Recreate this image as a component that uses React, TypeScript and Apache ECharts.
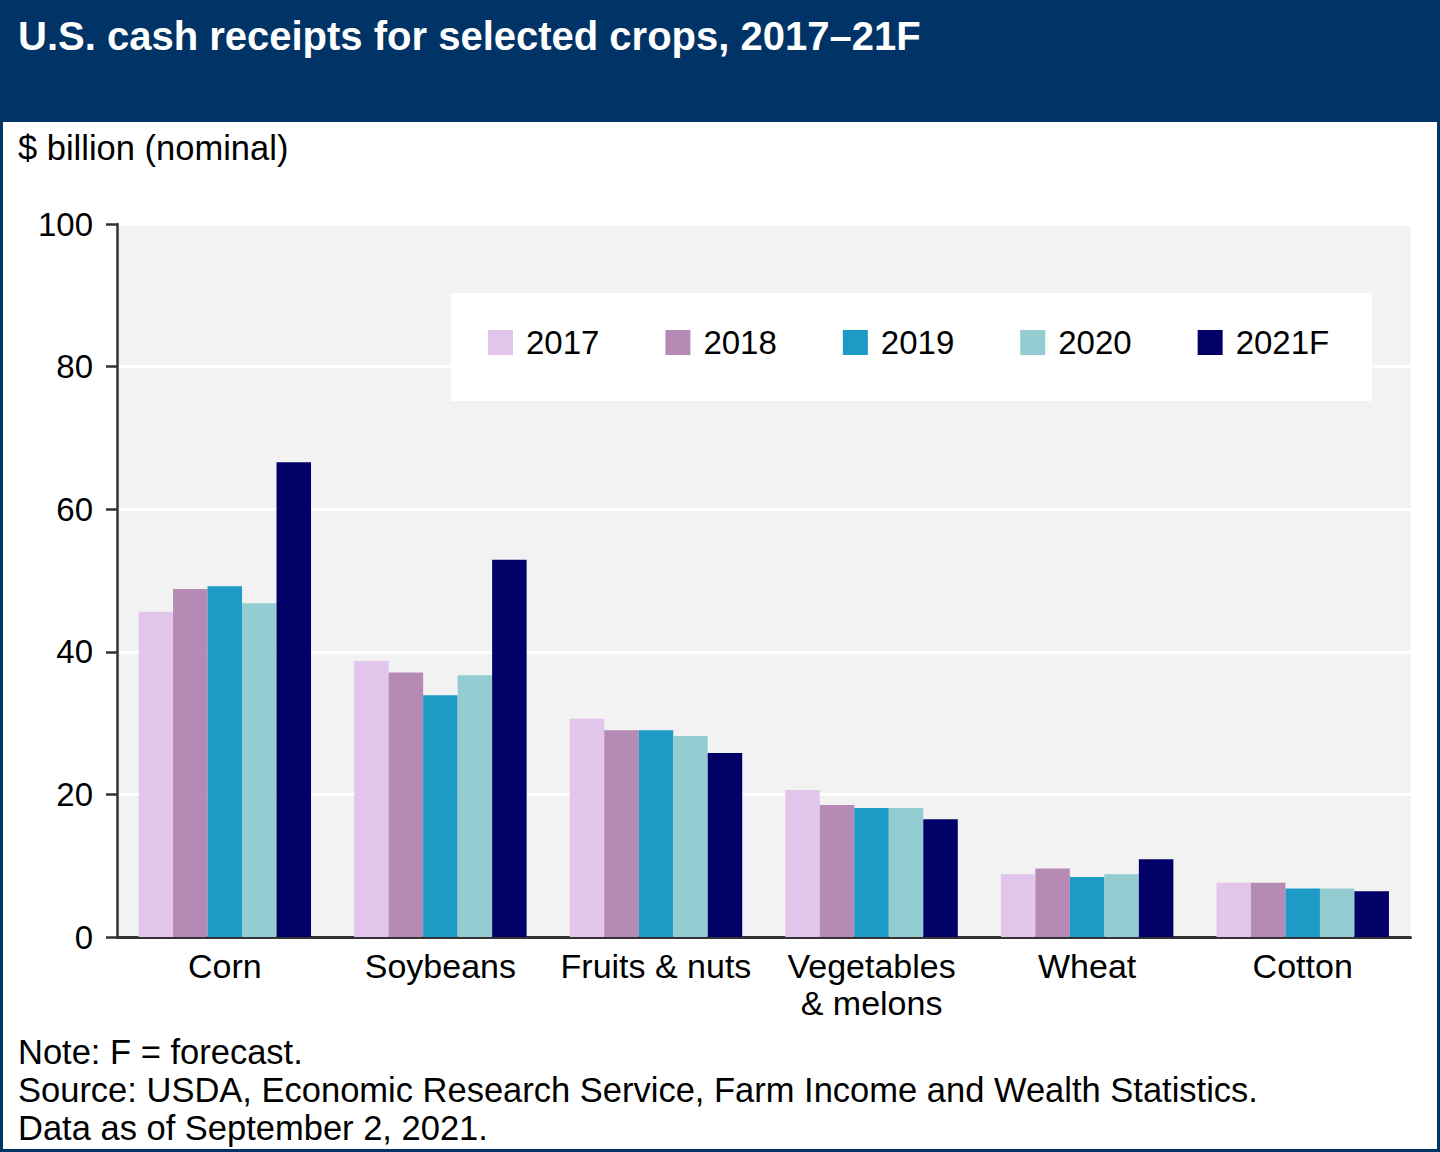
import React, { useEffect, useRef } from "react";
import * as echarts from "echarts";

const categories = ["Corn", "Soybeans", "Fruits & nuts", "Vegetables\n& melons", "Wheat", "Cotton"];
const seriesNames = ["2017", "2018", "2019", "2020", "2021F"];
const v2017 = [45.6, 38.7, 30.6, 20.6, 8.8, 7.6];
const v2018 = [48.8, 37.1, 29.0, 18.5, 9.6, 7.6];
const v2019 = [49.2, 33.9, 29.0, 18.1, 8.4, 6.8];
const v2020 = [46.8, 36.7, 28.2, 18.1, 8.8, 6.8];
const v2021 = [66.6, 52.9, 25.8, 16.5, 10.9, 6.4];
const seriesValues = [v2017, v2018, v2019, v2020, v2021];
const colors = ["#e1c5ea", "#b58ab5", "#1e9ac6", "#93cdd1", "#000066"];

const titleText = "U.S. cash receipts for selected crops, 2017\u201321F";
const unitText = "$ billion (nominal)";
const noteLines = [
  "Note: F = forecast.",
  "Source: USDA, Economic Research Service, Farm Income and Wealth Statistics.",
  "Data as of September 2, 2021.",
];

const FONT = "'Liberation Sans', Arial, Helvetica, sans-serif";
const NAVY = "#003366";

export default function App() {
  const ref = useRef<HTMLDivElement>(null);
  useEffect(() => {
    document.body.style.margin = "0";
    if (!ref.current) return;
    const chart = echarts.init(ref.current, undefined, { renderer: "svg" });
    const option: any = {
      animation: false,
      backgroundColor: "#ffffff",
      textStyle: { fontFamily: FONT },
      grid: {
        left: 117,
        right: 29.5,
        top: 224,
        bottom: 215,
        show: true,
        backgroundColor: "#f2f2f2",
        borderWidth: 0,
        containLabel: false,
      },
      legend: {
        left: 488,
        top: 326,
        z: 10,
        icon: "rect",
        itemWidth: 25,
        itemHeight: 25,
        itemGap: 66,
        padding: 0,
        data: seriesNames,
        textStyle: {
          fontFamily: FONT,
          fontSize: 33,
          color: "#000",
          padding: [0, 0, 0, 8],
        },
      },
      xAxis: {
        type: "category",
        data: categories,
        axisLine: { show: true, lineStyle: { color: "#333", width: 3 } },
        axisTick: { show: false },
        axisLabel: {
          interval: 0,
          fontFamily: FONT,
          fontSize: 34,
          color: "#000",
          margin: 10,
          lineHeight: 37,
        },
      },
      yAxis: {
        type: "value",
        min: 0,
        max: 100,
        interval: 20,
        axisLine: { show: true, lineStyle: { color: "#333", width: 2.5 } },
        axisTick: { show: true, length: 11, lineStyle: { color: "#333", width: 2.5 } },
        axisLabel: { fontFamily: FONT, fontSize: 33, color: "#000", margin: 24 },
        splitLine: { show: true, lineStyle: { color: "#ffffff", width: 3 } },
      },
      series: seriesNames.map((name, i) => ({
        name,
        type: "bar",
        data: seriesValues[i],
        barGap: "0%",
        barCategoryGap: "20%",
        itemStyle: { color: colors[i] },
        emphasis: { disabled: true },
      })),
      graphic: [
        {
          type: "rect",
          z: 1,
          shape: { x: 0, y: 0, width: 1440, height: 122 },
          style: { fill: NAVY },
        },
        {
          type: "text",
          z: 2,
          x: 18,
          y: 36,
          style: {
            text: titleText,
            fill: "#ffffff",
            font: `bold 40px ${FONT}`,
            verticalAlign: "middle",
          },
        },
        {
          type: "text",
          z: 2,
          x: 18,
          y: 148,
          style: {
            text: unitText,
            fill: "#000",
            font: `34.5px ${FONT}`,
            verticalAlign: "middle",
          },
        },
        {
          type: "rect",
          z: 5,
          shape: { x: 451, y: 293, width: 921, height: 108 },
          style: { fill: "#ffffff" },
        },
        ...noteLines.map((t, i) => ({
          type: "text",
          z: 2,
          x: 18,
          y: 1052 + i * 38,
          style: {
            text: t,
            fill: "#000",
            font: `34.5px ${FONT}`,
            verticalAlign: "middle",
          },
        })),
        {
          type: "rect",
          z: 20,
          shape: { x: 1.5, y: 1.5, width: 1437, height: 1149 },
          style: { fill: "none", stroke: NAVY, lineWidth: 3 },
        },
      ],
    };
    chart.setOption(option);
    return () => chart.dispose();
  }, []);
  return (
    <div
      ref={ref}
      style={{ position: "absolute", left: 0, top: 0, width: 1440, height: 1152 }}
    />
  );
}
